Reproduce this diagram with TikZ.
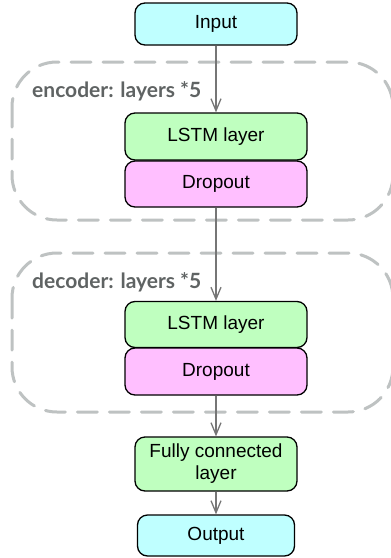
\documentclass[tikz,border=0pt]{standalone}
\usepackage{fontspec}
\setmainfont{Liberation Sans}
\newfontfamily\labelfont{Lato}
\usetikzlibrary{arrows.meta}
\definecolor{cin}{RGB}{191,255,255}
\definecolor{cgreen}{RGB}{191,255,191}
\definecolor{cpink}{RGB}{255,191,255}
\definecolor{dashgray}{RGB}{190,194,194}
\definecolor{arrgray}{RGB}{118,118,118}
\definecolor{labgray}{RGB}{95,99,99}
\tikzset{
  blk/.style={draw=black, line width=1.3pt, rounded corners=10pt, align=center,
    font=\fontsize{19}{22}\selectfont, inner sep=0pt},
  grp/.style={draw=dashgray, line width=3pt, dash pattern=on 20pt off 12pt, rounded corners=45pt, line cap=round},
  conn/.style={draw=arrgray, line width=1.3pt, -{Straight Barb[length=12pt,width=10pt,line width=1.3pt]}},
  glabel/.style={font=\labelfont\bfseries\fontsize{21}{24}\selectfont, text=labgray, anchor=base west, inner sep=0pt}
}
\begin{document}
\begin{tikzpicture}[x=1pt,y=-1pt]
\useasboundingbox (0,0) rectangle (391,558);
% groups
\draw[grp] (12,62) rectangle (393,220);
\draw[grp] (12,253) rectangle (393,412);
\node[glabel] (enclab) at (32,97) {encoder: layers *5};
\node[glabel] (declab) at (32,288) {decoder: layers *5};
% blocks
\node[blk, fill=cin, minimum width=162pt, minimum height=42pt] (in) at (216,24) {Input};
\node[blk, fill=cgreen, minimum width=182pt, minimum height=47pt] (el) at (216,136.5) {LSTM layer};
\node[blk, fill=cpink, minimum width=182pt, minimum height=46pt] (ed) at (216,184) {Dropout};
\node[blk, fill=cgreen, minimum width=182pt, minimum height=46pt] (dl) at (216,324.5) {LSTM layer};
\node[blk, fill=cpink, minimum width=182pt, minimum height=47pt] (dd) at (216,371.5) {Dropout};
\node[blk, fill=cgreen, minimum width=162pt, minimum height=54pt] (fc) at (216,464) {Fully connected\\layer};
\node[blk, fill=cin, minimum width=157pt, minimum height=41pt] (out) at (216,535.5) {Output};
% connectors
\draw[conn] (in) -- (el);
\draw[conn] (ed) -- (dl);
\draw[conn] (dd) -- (fc);
\draw[conn] (fc) -- (out);
\end{tikzpicture}
\end{document}
